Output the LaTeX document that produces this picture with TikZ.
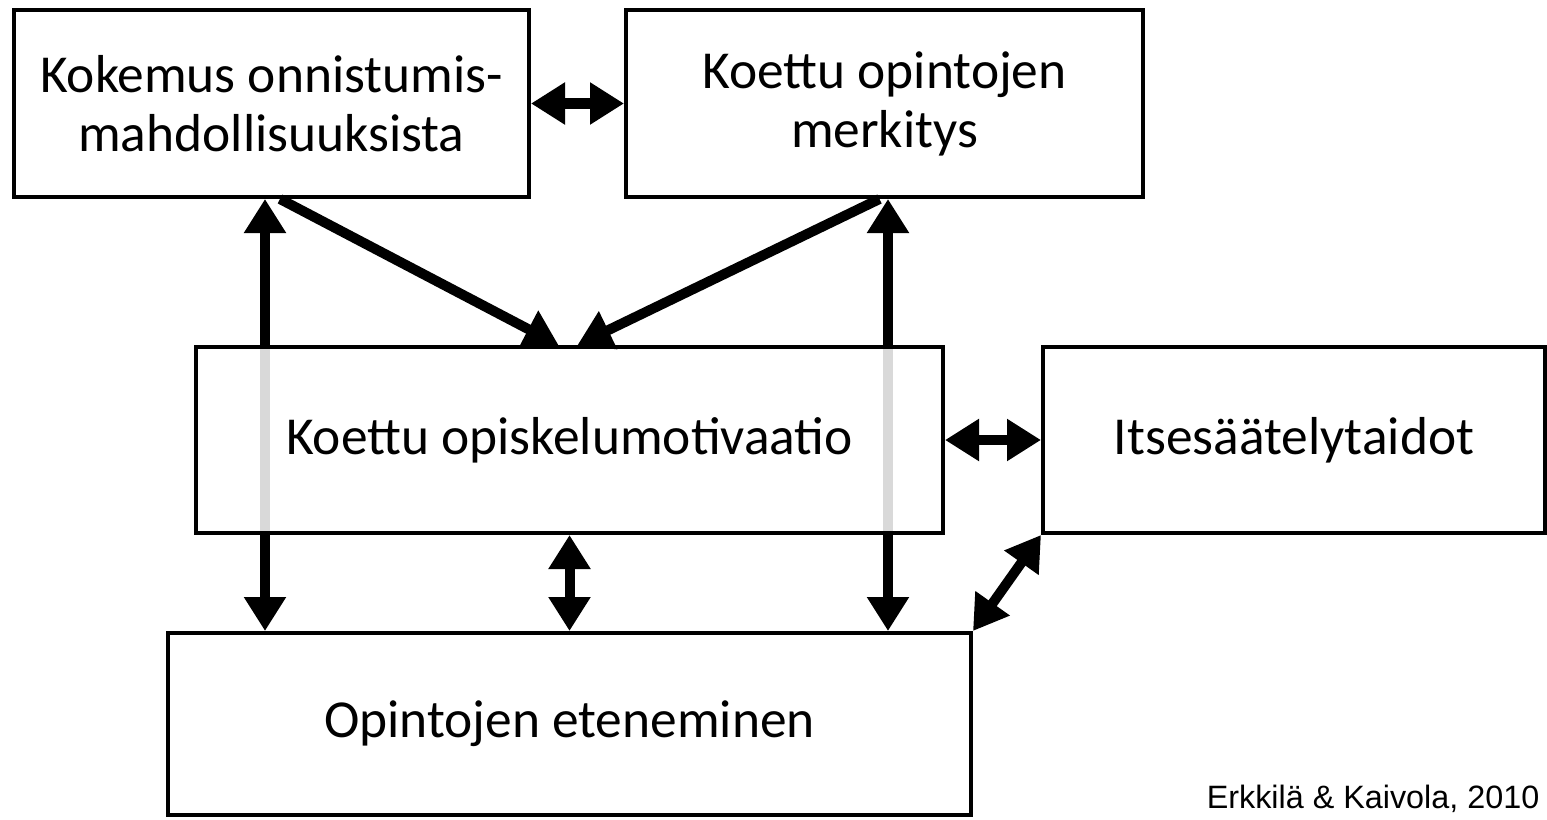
\documentclass[tikz,border=0pt]{standalone}
\usepackage{fontspec}
\setmainfont{Carlito}
\newfontfamily\notefont{Liberation Sans}
\usetikzlibrary{arrows.meta}

\begin{document}
\begin{tikzpicture}[
        box/.style={rectangle, draw=black, line width=0.04cm, fill=white, inner sep=0pt, minimum height=1.87cm, align=center, font=\fontsize{15.2}{16.8}\selectfont},
        link/.style={line width=0.1cm, {Triangle[length=0.34cm, width=0.4cm]}-{Triangle[length=0.34cm, width=0.4cm]}},
        push/.style={line width=0.1cm, -{Triangle[length=0.34cm, width=0.4cm]}}
    ]
        \useasboundingbox (0,0) rectangle (15.47,8.19);

        % Top boxes
        \node[box, minimum width=5.15cm] (chance) at (2.715,7.155) {Kokemus onnistumis-\\mahdollisuuksista};
        \node[box, minimum width=5.17cm] (meaning) at (8.845,7.155) {Koettu opintojen\\merkitys};

        % Bottom box
        \node[box, minimum width=8.03cm, minimum height=1.82cm] (progress) at (5.695,0.95) {Opintojen eteneminen};

        % Long arrows behind the middle box
        \coordinate (lcol) at (2.65,0);
        \coordinate (rcol) at (8.88,0);
        \draw[link] (chance.south -| lcol) -- (progress.north -| lcol);
        \draw[link] (meaning.south -| rcol) -- (progress.north -| rcol);

        % Middle boxes
        \node[box, minimum width=7.47cm, minimum height=1.86cm, fill opacity=0.85, text opacity=1] (motiv) at (5.695,3.79) {Koettu opiskelumotivaatio};
        \node[box, minimum width=5.02cm, minimum height=1.86cm] (selfreg) at (12.94,3.79) {Itsesäätelytaidot};

        % Arrows
        \draw[link] (chance.east) -- (meaning.west);
        \draw[push] ([xshift=0.085cm]chance.south) -- ([xshift=-0.11cm]motiv.north);
        \draw[push] ([xshift=-0.05cm]meaning.south) -- ([xshift=0.08cm]motiv.north);
        \draw[link] (motiv.east) -- (selfreg.west);
        \draw[link] (motiv.south) -- (progress.north);
        \draw[link] (selfreg.south west) -- (progress.north east);

        \node[anchor=south east, inner sep=0pt, font=\notefont\fontsize{9.2}{10}\selectfont] (source) at (15.40,0.06) {Erkkilä \& Kaivola, 2010};
    \end{tikzpicture}
\end{document}
